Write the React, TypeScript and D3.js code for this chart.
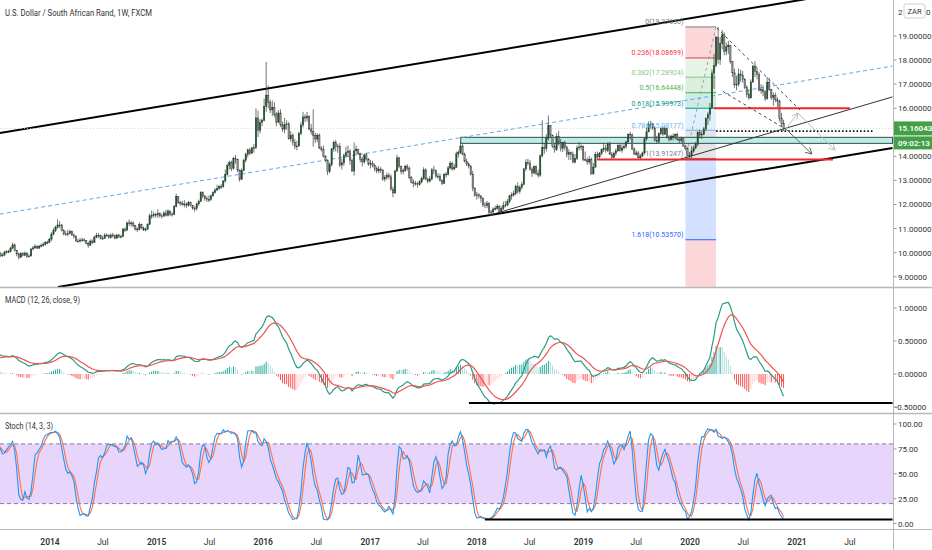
import React from "react";
import * as d3 from "d3";

// ---------------- DATA (weekly USD/ZAR, weeks starting Monday) ----------------
const firstWeek = "2013-01-07";
const firstOpen = 8.62;

const close2013 = [8.77, 8.86, 9.01, 8.94, 8.86, 8.87, 8.95, 9.05, 9.18, 9.12, 9.26, 9.21, 9.18, 9.08, 9.25, 9.19, 8.96, 9.1, 9.45, 9.62, 9.98, 9.8, 10.02, 10.13, 9.91, 10.13, 9.98, 9.9, 9.9, 10.01, 10.04, 10.05, 10.19, 10.32, 10.08, 9.95, 9.8, 9.96, 9.89, 9.98, 9.83, 9.86, 10.15, 10.2, 10.26, 10.19, 10.27, 10.3, 10.33, 10.41, 10.43, 10.55];
const high2013 = [8.9, 8.95, 9.08, 9.05, 8.98, 8.97, 9.02, 9.12, 9.25, 9.22, 9.32, 9.3, 9.24, 9.2, 9.3, 9.28, 9.22, 9.18, 9.5, 9.72, 10.08, 10.05, 10.12, 10.35, 10.2, 10.2, 10.15, 10.02, 9.98, 10.08, 10.1, 10.12, 10.25, 10.42, 10.38, 10.12, 10.0, 10.02, 10.02, 10.05, 10.02, 9.95, 10.2, 10.28, 10.35, 10.3, 10.32, 10.38, 10.42, 10.48, 10.5, 10.62];
const low2013 = [8.55, 8.7, 8.82, 8.88, 8.8, 8.78, 8.82, 8.92, 9.02, 9.05, 9.08, 9.12, 9.1, 9.02, 9.05, 9.12, 8.94, 8.95, 9.08, 9.4, 9.58, 9.75, 9.78, 9.95, 9.82, 9.88, 9.9, 9.82, 9.82, 9.85, 9.95, 9.98, 10.0, 10.15, 10.05, 9.85, 9.72, 9.78, 9.85, 9.85, 9.78, 9.8, 9.84, 10.1, 10.15, 10.15, 10.15, 10.22, 10.25, 10.3, 10.35, 10.4];

const close2014 = [10.77, 10.91, 11.05, 11.15, 11.15, 10.92, 10.78, 10.78, 10.8, 10.88, 10.73, 10.68, 10.48, 10.48, 10.52, 10.53, 10.5, 10.38, 10.31, 10.48, 10.42, 10.63, 10.72, 10.71, 10.6, 10.59, 10.73, 10.73, 10.62, 10.73, 10.71, 10.6, 10.73, 10.67, 10.67, 10.98, 10.93, 11.24, 11.22, 11.23, 11.13, 10.98, 10.97, 11.18, 11.03, 10.94, 10.97, 11.18, 11.53, 11.54, 11.58, 11.57];
const high2014 = [10.85, 11.02, 11.12, 11.39, 11.3, 11.18, 10.98, 10.9, 10.95, 10.95, 10.92, 10.8, 10.72, 10.58, 10.6, 10.62, 10.6, 10.52, 10.45, 10.55, 10.55, 10.7, 10.82, 10.82, 10.75, 10.7, 10.8, 10.8, 10.75, 10.8, 10.82, 10.75, 10.78, 10.78, 10.75, 11.02, 11.05, 11.28, 11.38, 11.32, 11.3, 11.15, 11.05, 11.25, 11.2, 11.08, 11.05, 11.22, 11.62, 11.75, 11.7, 11.65];
const low2014 = [10.48, 10.72, 10.85, 11.0, 11.02, 10.88, 10.72, 10.7, 10.68, 10.75, 10.7, 10.58, 10.45, 10.42, 10.42, 10.45, 10.45, 10.35, 10.2, 10.28, 10.35, 10.4, 10.6, 10.62, 10.55, 10.52, 10.58, 10.65, 10.58, 10.58, 10.62, 10.55, 10.58, 10.6, 10.6, 10.65, 10.85, 10.92, 11.1, 11.08, 11.05, 10.92, 10.85, 10.92, 10.98, 10.9, 10.88, 10.95, 11.15, 11.4, 11.45, 11.45];

const close2015 = [11.62, 11.53, 11.52, 11.65, 11.55, 11.73, 11.6, 11.59, 11.91, 12.33, 12.09, 12.03, 12.02, 12.02, 11.97, 12.09, 11.95, 11.85, 11.83, 12.02, 12.13, 12.49, 12.35, 12.24, 12.21, 12.21, 12.36, 12.49, 12.6, 12.67, 12.75, 12.74, 12.98, 13.25, 13.62, 13.74, 13.5, 13.92, 13.87, 13.43, 13.05, 13.42, 13.84, 14.09, 14.27, 14.13, 14.35, 14.36, 15.6, 15.07, 15.41, 15.5];
const high2015 = [11.8, 11.68, 11.62, 11.72, 11.78, 11.8, 11.75, 11.68, 11.98, 12.45, 12.35, 12.15, 12.15, 12.18, 12.08, 12.15, 12.12, 11.98, 11.92, 12.08, 12.2, 12.55, 12.55, 12.4, 12.35, 12.38, 12.42, 12.55, 12.68, 12.82, 12.8, 12.85, 13.0, 13.45, 13.7, 13.82, 13.82, 13.98, 14.05, 13.9, 13.45, 13.5, 13.9, 14.15, 14.32, 14.35, 14.4, 14.52, 15.99, 15.9, 15.55, 15.58];
const low2015 = [11.45, 11.45, 11.42, 11.48, 11.5, 11.5, 11.52, 11.5, 11.55, 11.88, 12.02, 11.95, 11.95, 11.88, 11.85, 11.92, 11.92, 11.78, 11.7, 11.75, 11.95, 12.1, 12.25, 12.15, 12.1, 12.1, 12.15, 12.32, 12.45, 12.55, 12.6, 12.65, 12.7, 12.9, 13.2, 13.45, 13.38, 13.45, 13.7, 13.35, 12.95, 13.02, 13.38, 13.75, 13.95, 14.05, 14.1, 14.15, 14.3, 14.8, 14.95, 15.25];

const close2016 = [16.08, 16.54, 16.24, 15.93, 16.02, 15.75, 15.42, 15.8, 15.31, 15.13, 15.33, 15.35, 14.73, 14.86, 14.57, 14.4, 14.43, 14.95, 15.3, 15.64, 15.59, 15.67, 15.14, 15.04, 14.86, 14.72, 14.88, 14.35, 14.29, 14.0, 13.83, 13.36, 13.65, 14.31, 14.58, 14.42, 14.4, 13.64, 13.73, 14.03, 14.15, 14.22, 13.84, 13.39, 14.23, 14.3, 14.12, 13.88, 13.77, 14.06, 13.89, 13.68];
const high2016 = [16.4, 17.92, 16.95, 16.35, 16.32, 16.25, 15.85, 15.92, 15.95, 15.45, 15.6, 15.5, 15.42, 15.05, 14.95, 14.72, 14.65, 15.02, 15.42, 15.85, 15.75, 15.85, 15.7, 15.35, 15.95, 14.98, 14.95, 14.95, 14.42, 14.45, 14.05, 13.85, 13.75, 14.35, 14.65, 14.68, 14.52, 14.55, 13.9, 14.12, 14.4, 14.45, 14.3, 13.92, 14.58, 14.45, 14.3, 14.15, 13.98, 14.12, 14.15, 13.92];
const low2016 = [15.45, 15.85, 16.0, 15.8, 15.68, 15.62, 15.25, 15.38, 15.22, 15.02, 14.95, 15.1, 14.7, 14.62, 14.45, 14.3, 14.25, 14.4, 14.88, 15.2, 15.42, 15.45, 15.08, 14.9, 14.4, 14.55, 14.6, 14.3, 14.2, 13.95, 13.75, 13.22, 13.3, 13.58, 14.2, 14.2, 14.15, 13.55, 13.45, 13.6, 13.95, 13.98, 13.65, 13.35, 13.2, 14.05, 14.05, 13.75, 13.58, 13.7, 13.82, 13.6];

const close2017 = [13.71, 13.63, 13.49, 13.4, 13.47, 13.42, 13.06, 13.13, 13.21, 13.15, 12.62, 12.48, 13.39, 13.94, 13.57, 13.36, 13.42, 13.59, 13.51, 13.11, 12.93, 12.87, 12.86, 12.82, 12.94, 13.07, 13.44, 13.06, 12.97, 13.06, 13.44, 13.41, 13.18, 13.18, 13.0, 12.87, 13.26, 13.26, 13.52, 13.71, 13.48, 13.55, 14.1, 14.15, 14.43, 14.09, 13.8, 13.69, 13.6, 13.26, 12.67, 12.38];
const high2017 = [13.85, 13.82, 13.7, 13.58, 13.6, 13.55, 13.48, 13.22, 13.32, 13.32, 13.25, 12.75, 13.45, 14.07, 13.98, 13.62, 13.5, 13.65, 13.68, 13.58, 13.18, 13.05, 12.98, 12.95, 13.02, 13.15, 13.55, 13.5, 13.12, 13.18, 13.52, 13.6, 13.45, 13.3, 13.28, 13.05, 13.3, 13.35, 13.6, 13.8, 13.78, 13.68, 14.2, 14.25, 14.6, 14.5, 14.15, 13.9, 13.75, 13.62, 13.4, 12.72];
const low2017 = [13.5, 13.55, 13.38, 13.3, 13.3, 13.3, 12.98, 12.95, 13.02, 13.05, 12.58, 12.3, 12.45, 13.35, 13.5, 13.25, 13.25, 13.35, 13.4, 13.05, 12.88, 12.72, 12.78, 12.7, 12.78, 12.88, 13.02, 13.0, 12.88, 12.92, 13.0, 13.25, 13.1, 13.05, 12.95, 12.8, 12.85, 13.12, 13.2, 13.45, 13.4, 13.42, 13.52, 13.95, 14.1, 14.05, 13.75, 13.6, 13.5, 13.2, 12.55, 12.32];

const close2018 = [12.4, 12.35, 12.25, 11.98, 11.95, 12.03, 11.67, 11.69, 11.81, 11.84, 11.92, 11.72, 11.83, 11.95, 11.98, 12.12, 12.36, 12.4, 12.46, 12.75, 12.54, 12.71, 12.83, 13.48, 13.75, 13.72, 13.47, 13.31, 13.58, 13.28, 13.22, 14.02, 14.37, 14.33, 14.74, 15.28, 14.88, 14.42, 14.28, 14.82, 14.59, 14.33, 14.57, 14.37, 14.08, 14.15, 14.08, 13.76, 13.91, 14.35, 14.39, 14.42, 13.87];
const high2018 = [12.52, 12.48, 12.4, 12.3, 12.1, 12.15, 12.1, 11.78, 11.88, 11.95, 12.02, 11.98, 11.92, 12.12, 12.15, 12.22, 12.4, 12.5, 12.58, 12.82, 12.92, 12.8, 12.95, 13.52, 13.88, 13.9, 13.85, 13.55, 13.62, 13.62, 13.45, 14.08, 15.5, 14.55, 14.92, 15.7, 15.25, 14.9, 14.55, 14.95, 15.05, 14.72, 14.6, 14.65, 14.45, 14.3, 14.2, 14.2, 14.1, 14.45, 14.6, 14.5, 14.45];
const low2018 = [12.2, 12.25, 12.08, 11.9, 11.85, 11.85, 11.55, 11.52, 11.6, 11.75, 11.78, 11.68, 11.68, 11.78, 11.88, 11.92, 12.05, 12.2, 12.32, 12.38, 12.45, 12.45, 12.62, 12.8, 13.38, 13.62, 13.4, 13.15, 13.25, 13.22, 13.12, 13.15, 13.95, 14.1, 14.2, 14.65, 14.78, 14.35, 14.15, 14.22, 14.45, 14.2, 14.18, 14.25, 13.95, 13.85, 13.85, 13.72, 13.7, 13.85, 14.25, 14.25, 13.8];

const close2019 = [13.85, 13.77, 13.88, 13.27, 13.55, 14.08, 13.98, 14.13, 14.29, 14.33, 14.24, 14.51, 14.09, 13.95, 14.13, 14.23, 14.45, 14.25, 14.35, 14.41, 14.6, 14.92, 14.89, 14.3, 14.09, 14.14, 13.94, 14.01, 14.14, 14.73, 15.02, 15.33, 15.35, 15.18, 14.66, 14.61, 14.94, 15.15, 14.92, 15.15, 14.81, 14.7, 14.84, 14.84, 14.91, 14.71, 14.66, 14.73, 14.43, 14.32, 14.03, 14.05];
const high2019 = [14.2, 13.95, 14.02, 13.95, 13.72, 14.18, 14.2, 14.18, 14.32, 14.55, 14.48, 14.58, 14.6, 14.18, 14.2, 14.32, 14.5, 14.55, 14.5, 14.52, 14.65, 14.95, 15.02, 14.95, 14.38, 14.25, 14.22, 14.1, 14.2, 14.78, 15.2, 15.45, 15.48, 15.4, 15.25, 14.85, 15.0, 15.22, 15.25, 15.25, 15.18, 14.88, 14.9, 14.95, 14.95, 14.98, 14.8, 14.82, 14.78, 14.48, 14.38, 14.18];
const low2019 = [13.8, 13.65, 13.68, 13.25, 13.25, 13.55, 13.9, 13.9, 14.05, 14.18, 14.15, 14.18, 14.05, 13.9, 13.92, 14.02, 14.18, 14.2, 14.15, 14.28, 14.32, 14.55, 14.7, 14.28, 14.08, 14.02, 13.92, 13.88, 13.98, 14.08, 14.65, 15.0, 15.15, 15.1, 14.62, 14.55, 14.55, 14.88, 14.85, 14.88, 14.75, 14.62, 14.65, 14.65, 14.7, 14.65, 14.55, 14.58, 14.4, 14.25, 14.0, 13.91];

const close2020 = [14.22, 14.35, 14.5, 14.98, 14.89, 14.92, 15.14, 15.58, 15.74, 16.0, 17.46, 17.77, 18.95, 18.02, 18.7, 19.05, 18.37, 18.55, 18.62, 17.94, 17.47, 16.97, 17.0, 17.42, 17.36, 17.2, 16.86, 16.57, 16.43, 17.09, 17.75, 17.53, 17.4, 16.75, 16.78, 16.68, 16.4, 17.08, 16.77, 16.45, 16.52, 16.35, 16.27, 15.58, 15.37, 15.16];
const high2020 = [14.42, 14.45, 14.6, 15.05, 15.1, 15.05, 15.22, 15.62, 15.85, 16.22, 17.6, 18.26, 19.0, 19.37, 18.95, 19.25, 19.15, 18.72, 18.8, 18.6, 17.95, 17.65, 17.35, 17.65, 17.6, 17.55, 17.25, 16.95, 16.75, 17.2, 17.8, 17.95, 17.68, 17.5, 17.0, 16.95, 16.75, 17.3, 17.25, 16.8, 16.65, 16.65, 16.45, 16.35, 15.8, 15.52];
const low2020 = [13.92, 14.15, 14.3, 14.42, 14.75, 14.72, 14.88, 15.05, 15.3, 15.48, 16.0, 16.8, 17.7, 17.85, 17.8, 18.45, 18.2, 18.2, 18.25, 17.85, 17.3, 16.85, 16.75, 16.9, 17.1, 17.05, 16.8, 16.45, 16.35, 16.4, 17.05, 17.3, 17.2, 16.7, 16.6, 16.5, 16.3, 16.35, 16.72, 16.35, 16.1, 16.25, 16.05, 15.45, 15.25, 15.05];

// axis ticks
const priceTicks = [9, 10, 11, 12, 13, 14, 15, 16, 17, 18, 19, 20];
const macdTicks = [1, 0.5, 0, -0.5];
const stochTicks = [100, 75, 50, 25, 0];
const timeTickDates = ["2014-01-01", "2014-07-01", "2015-01-01", "2015-07-01", "2016-01-01", "2016-07-01", "2017-01-01", "2017-07-01", "2018-01-01", "2018-07-01", "2019-01-01", "2019-07-01", "2020-01-01", "2020-07-01", "2021-01-01", "2021-07-01"];
const timeTickLabels = ["2014", "Jul", "2015", "Jul", "2016", "Jul", "2017", "Jul", "2018", "Jul", "2019", "Jul", "2020", "Jul", "2021", "Jul"];

// fibonacci retracement
const fibHigh = 19.3765;
const fibLow = 13.91247;
const fibStart = "2019-12-16";
const fibEnd = "2020-03-30";
const fibLevels = [0, 0.236, 0.382, 0.5, 0.618, 0.786, 1, 1.618, 2.618];
const fibColors = ["#787b86", "#f23645", "#81c784", "#4caf50", "#089981", "#64b5f6", "#787b86", "#2962ff", "#f23645"];

// drawings [date, price]
const upperChannel = [["2013-07-13", 14.97], ["2021-11-24", 21.13]];
const lowerChannel = [["2014-01-28", 8.57], ["2021-11-24", 14.35]];
const midDashed = [["2013-07-13", 11.6], ["2021-11-24", 17.75]];
const thinTrend = [["2018-02-15", 11.56], ["2021-11-24", 16.47]];
const zoneBox = { from: "2017-11-07", to: "2021-11-24", top: 14.79, bottom: 14.54 };
const redLines = [
  { from: "2020-03-23", to: "2021-07-01", price: 16.0 },
  { from: "2019-02-16", to: "2021-05-04", price: 13.87 },
];
const dottedLine = { from: "2020-03-30", to: "2021-09-17", price: 15.05 };
const wedgeUpper = [["2020-04-02", 19.33], ["2021-01-11", 15.93]];
const wedgeLower = [["2020-04-22", 16.7], ["2020-11-27", 15.1]];
const lightArrow = [["2020-11-27", 15.18], ["2021-01-04", 15.8], ["2021-05-11", 14.26]];
const darkArrow = [["2020-11-27", 15.1], ["2021-02-21", 14.1]];
const macdSupport = { from: "2017-12-05", to: "2021-11-24", value: -0.44 };
const stochSupport = { from: "2018-01-29", to: "2021-11-24", value: 4 };
const lastPrice = 15.16043;
const countdown = "09:02:13";

// ---------------- helpers ----------------
const parse = d3.timeParse("%Y-%m-%d");

type Bar = { d: Date; o: number; h: number; l: number; c: number };

function buildBars(): Bar[] {
  const closes = [close2013, close2014, close2015, close2016, close2017, close2018, close2019, close2020].flat();
  const highs = [high2013, high2014, high2015, high2016, high2017, high2018, high2019, high2020].flat();
  const lows = [low2013, low2014, low2015, low2016, low2017, low2018, low2019, low2020].flat();
  const start = parse(firstWeek) as Date;
  const bars: Bar[] = [];
  let prev = firstOpen;
  closes.forEach((c, i) => {
    const d = d3.timeDay.offset(start, 7 * i);
    const o = prev;
    const h = Math.max(highs[i], o, c);
    const l = Math.min(lows[i], o, c);
    bars.push({ d, o, h, l, c });
    prev = c;
  });
  return bars;
}

function ema(vals: number[], n: number) {
  const k = 2 / (n + 1);
  const out: number[] = [];
  vals.forEach((v, i) => out.push(i === 0 ? v : v * k + out[i - 1] * (1 - k)));
  return out;
}
function sma(vals: number[], n: number) {
  return vals.map((_, i) => {
    const s = vals.slice(Math.max(0, i - n + 1), i + 1);
    return d3.mean(s) as number;
  });
}

const W = 932;
const AX = 893.5;
const MAIN_B = 287;
const MACD_T = 288;
const MACD_B = 413;
const ST_T = 414;
const ST_B = 529.5;
const FONT = "Roboto, 'Liberation Sans', sans-serif";

export default function App() {
  const bars = React.useMemo(buildBars, []);
  const x = d3.scaleTime().domain([parse("2014-01-01") as Date, parse("2021-01-01") as Date]).range([50, 797]);
  const y = d3.scaleLinear().domain([9, 19]).range([276.7, 36]);
  const ym = d3.scaleLinear().domain([0, 1]).range([374, 308]);
  const ys = d3.scaleLinear().domain([0, 100]).range([523.5, 424]);
  const X = (s: string) => x(parse(s) as Date);

  const closes = bars.map((b) => b.c);
  const e12 = ema(closes, 12);
  const e26 = ema(closes, 26);
  const macd = e12.map((v, i) => v - e26[i]);
  const signal = ema(macd, 9);
  const hist = macd.map((v, i) => v - signal[i]);
  const rawK = bars.map((b, i) => {
    const w = bars.slice(Math.max(0, i - 13), i + 1);
    const hh = d3.max(w, (q) => q.h) as number;
    const ll = d3.min(w, (q) => q.l) as number;
    return hh === ll ? 50 : (100 * (b.c - ll)) / (hh - ll);
  });
  const kLine = sma(rawK, 3);
  const dLine = sma(kLine, 3);

  const lineM = d3.line<number>().x((_, i) => x(bars[i].d)).y((v) => ym(v));
  const lineS = d3.line<number>().x((_, i) => x(bars[i].d)).y((v) => ys(v));
  const lineP = d3.line<any>().x((p) => X(p[0])).y((p) => y(p[1]));

  const fibPrice = (lv: number) => fibHigh - lv * (fibHigh - fibLow);
  const fx1 = X(fibStart);
  const fx2 = X(fibEnd);

  const bw = 1.3;
  const yLast = y(lastPrice);

  return (
    <svg width={W} height={550} style={{ position: "absolute", left: 0, top: 0, background: "#fff" }} fontFamily={FONT}>
      <defs>
        <clipPath id="cMain"><rect x={0} y={0} width={AX} height={MAIN_B} /></clipPath>
        <clipPath id="cMacd"><rect x={0} y={MACD_T} width={AX} height={MACD_B - MACD_T} /></clipPath>
        <clipPath id="cSt"><rect x={0} y={ST_T} width={AX} height={ST_B - ST_T} /></clipPath>
        <marker id="arL" viewBox="0 0 10 10" refX="9" refY="5" markerWidth="7" markerHeight="7" orient="auto">
          <path d="M0,0 L9,5 L0,10" fill="none" stroke="#bdbdbd" strokeWidth={1.4} />
        </marker>
        <marker id="arD" viewBox="0 0 10 10" refX="9" refY="5" markerWidth="7" markerHeight="7" orient="auto">
          <path d="M0,0 L9,5 L0,10" fill="none" stroke="#666" strokeWidth={1.4} />
        </marker>
      </defs>
      <rect x={0} y={0} width={W} height={550} fill="#fff" />

      {/* ---------- MAIN PANE ---------- */}
      <g clipPath="url(#cMain)">
        {fibLevels.slice(1).map((lv, i) => {
          const p1 = y(fibPrice(fibLevels[i]));
          const p2 = y(fibPrice(lv));
          return <rect key={"fz" + i} x={fx1} y={p1} width={fx2 - fx1} height={p2 - p1} fill={fibColors[i + 1]} opacity={0.2} />;
        })}
        {fibLevels.map((lv, i) => (
          <line key={"fl" + i} x1={fx1} x2={fx2} y1={y(fibPrice(lv))} y2={y(fibPrice(lv))} stroke={fibColors[i]} strokeWidth={1} />
        ))}
        <line x1={fx1} y1={y(fibLow)} x2={fx2} y2={y(fibHigh)} stroke="#9e9e9e" strokeDasharray="3,3" strokeWidth={1} />

        <rect x={X(zoneBox.from)} y={y(zoneBox.top)} width={X(zoneBox.to) - X(zoneBox.from)} height={y(zoneBox.bottom) - y(zoneBox.top)} fill="#bfece6" stroke="#2f4f4f" strokeWidth={1} />

        <path d={lineP(midDashed) as string} stroke="#64a8e8" strokeDasharray="4,3" strokeWidth={1} fill="none" />
        <path d={lineP(upperChannel) as string} stroke="#000" strokeWidth={2} fill="none" />
        <path d={lineP(lowerChannel) as string} stroke="#000" strokeWidth={2} fill="none" />
        <path d={lineP(thinTrend) as string} stroke="#333" strokeWidth={1} fill="none" />

        <line x1={0} x2={AX} y1={yLast} y2={yLast} stroke="#c4ccc4" strokeDasharray="1,2" strokeWidth={0.8} />

        {bars.map((b, i) => {
          const cx = x(b.d);
          const up = b.c >= b.o;
          const top = y(Math.max(b.o, b.c));
          const h = Math.max(0.8, y(Math.min(b.o, b.c)) - top);
          return (
            <g key={"b" + i}>
              <line x1={cx} x2={cx} y1={y(b.h)} y2={y(b.l)} stroke="#3a3a3a" strokeWidth={0.7} />
              <rect x={cx - bw / 2} y={top} width={bw} height={h} fill={up ? "#1f5a2e" : "#9a9a9a"} stroke={up ? "#173f22" : "#2e2e2e"} strokeWidth={0.45} />
            </g>
          );
        })}

        {redLines.map((r, i) => (
          <line key={"rl" + i} x1={X(r.from)} x2={X(r.to)} y1={y(r.price)} y2={y(r.price)} stroke="#f0262f" strokeWidth={2} />
        ))}
        <line x1={X(dottedLine.from)} x2={X(dottedLine.to)} y1={y(dottedLine.price)} y2={y(dottedLine.price)} stroke="#111" strokeWidth={1.6} strokeDasharray="1.6,2" />

        <path d={lineP(wedgeUpper) as string} stroke="#444" strokeDasharray="3,3" strokeWidth={1} fill="none" />
        <path d={lineP(wedgeLower) as string} stroke="#444" strokeDasharray="3,3" strokeWidth={1} fill="none" />

        <line x1={X(lightArrow[0][0] as string)} y1={y(lightArrow[0][1] as number)} x2={X(lightArrow[1][0] as string)} y2={y(lightArrow[1][1] as number)} stroke="#bdbdbd" strokeWidth={1} markerEnd="url(#arL)" />
        <line x1={X(lightArrow[1][0] as string)} y1={y(lightArrow[1][1] as number)} x2={X(lightArrow[2][0] as string)} y2={y(lightArrow[2][1] as number)} stroke="#bdbdbd" strokeWidth={1} markerEnd="url(#arL)" />
        <line x1={X(darkArrow[0][0] as string)} y1={y(darkArrow[0][1] as number)} x2={X(darkArrow[1][0] as string)} y2={y(darkArrow[1][1] as number)} stroke="#666" strokeWidth={1} markerEnd="url(#arD)" />

        {fibLevels.map((lv, i) => (
          <text key={"ft" + i} x={fx1 - 2} y={y(fibPrice(lv)) - 2.5} fontSize={7} textAnchor="end" fill={fibColors[i]}>
            {`${lv}(${fibPrice(lv).toFixed(5)})`}
          </text>
        ))}
      </g>

      <text x={5} y={16} fontSize={9.5} fill="#333" textLength={147} lengthAdjust="spacingAndGlyphs">U.S. Dollar / South African Rand, 1W, FXCM</text>

      {/* ---------- MACD PANE ---------- */}
      <g clipPath="url(#cMacd)">
        {hist.map((h, i) => {
          const prevH = i > 0 ? hist[i - 1] : h;
          const col = h >= 0 ? (h > prevH ? "#26a69a" : "#b2dfdb") : h < prevH ? "#ff5252" : "#ffcdd2";
          const cx = x(bars[i].d);
          return <line key={"h" + i} x1={cx} x2={cx} y1={ym(0)} y2={ym(h)} stroke={col} strokeWidth={1} />;
        })}
        <path d={lineM(macd) as string} stroke="#2a9d84" strokeWidth={1.2} fill="none" />
        <path d={lineM(signal) as string} stroke="#ef5350" strokeWidth={1.2} fill="none" />
        <line x1={X(macdSupport.from)} x2={X(macdSupport.to)} y1={ym(macdSupport.value)} y2={ym(macdSupport.value)} stroke="#000" strokeWidth={2} />
      </g>
      <text x={5} y={303} fontSize={8.5} fill="#333" textLength={75} lengthAdjust="spacingAndGlyphs">MACD (12, 26, close, 9)</text>

      {/* ---------- STOCH PANE ---------- */}
      <g clipPath="url(#cSt)">
        <rect x={0} y={ys(80)} width={AX} height={ys(20) - ys(80)} fill="#e8d5fb" />
        <line x1={0} x2={AX} y1={ys(80)} y2={ys(80)} stroke="#8a7a9a" strokeDasharray="4,3" strokeWidth={1} />
        <line x1={0} x2={AX} y1={ys(20)} y2={ys(20)} stroke="#8a7a9a" strokeDasharray="4,3" strokeWidth={1} />
        <path d={lineS(dLine) as string} stroke="#ff7043" strokeWidth={1.1} fill="none" />
        <path d={lineS(kLine) as string} stroke="#2196f3" strokeWidth={1.1} fill="none" />
        <line x1={X(stochSupport.from)} x2={X(stochSupport.to)} y1={ys(stochSupport.value)} y2={ys(stochSupport.value)} stroke="#000" strokeWidth={2} />
      </g>
      <text x={5} y={429} fontSize={8.5} fill="#333" textLength={48} lengthAdjust="spacingAndGlyphs">Stoch (14, 3, 3)</text>

      {/* ---------- separators ---------- */}
      <line x1={0} x2={W} y1={287.5} y2={287.5} stroke="#b5b8bf" strokeWidth={1.5} />
      <line x1={0} x2={W} y1={413.5} y2={413.5} stroke="#b5b8bf" strokeWidth={1.5} />
      <line x1={0} x2={W} y1={ST_B} y2={ST_B} stroke="#b5b8bf" strokeWidth={1} />
      <line x1={AX} x2={AX} y1={0} y2={550} stroke="#b5b8bf" strokeWidth={1} />

      {/* ---------- price axes ---------- */}
      {priceTicks.filter((p) => Math.abs(y(p) - yLast) > 14 && p < 20).map((p) => (
        <g key={"pt" + p}>
          <line x1={AX} x2={AX + 3} y1={y(p)} y2={y(p)} stroke="#999" />
          <text x={898} y={y(p) + 3} fontSize={8} fill="#333">{p.toFixed(5)}</text>
        </g>
      ))}
      {/* top tick partly hidden behind currency badge */}
      <text x={898} y={y(20) + 3} fontSize={8} fill="#333">{"2"}</text>
      <text x={926} y={y(20) + 3} fontSize={8} fill="#333">{"0"}</text>
      {macdTicks.map((p) => (
        <g key={"mt" + p}>
          <line x1={AX} x2={AX + 3} y1={ym(p)} y2={ym(p)} stroke="#999" />
          <text x={p < 0 ? 895 : 898} y={ym(p) + 3} fontSize={8} fill="#333">{p.toFixed(5)}</text>
        </g>
      ))}
      {stochTicks.map((p) => (
        <g key={"st" + p}>
          <line x1={AX} x2={AX + 3} y1={ys(p)} y2={ys(p)} stroke="#999" />
          <text x={898} y={ys(p) + 3} fontSize={8} fill="#333">{p.toFixed(2)}</text>
        </g>
      ))}

      <rect x={904} y={4} width={21} height={14} rx={2} fill="#fff" stroke="#d0d0d0" />
      <text x={914.5} y={14} fontSize={7.5} fill="#333" textAnchor="middle">ZAR</text>

      <rect x={894} y={yLast - 7} width={38} height={14} fill="#43a047" />
      <text x={898} y={yLast + 3} fontSize={8} fill="#fff" fontWeight={600}>{lastPrice.toFixed(5)}</text>
      <rect x={894} y={yLast + 8} width={38} height={13} fill="#43a047" />
      <text x={898} y={yLast + 17.5} fontSize={8} fill="#fff" fontWeight={600}>{countdown}</text>

      {/* ---------- time axis ---------- */}
      {timeTickDates.map((d, i) => (
        <text key={"tt" + i} x={X(d)} y={545} fontSize={8.5} textAnchor="middle" fill="#333" fontWeight={timeTickLabels[i] === "Jul" ? 400 : 600}>
          {timeTickLabels[i]}
        </text>
      ))}
    </svg>
  );
}
